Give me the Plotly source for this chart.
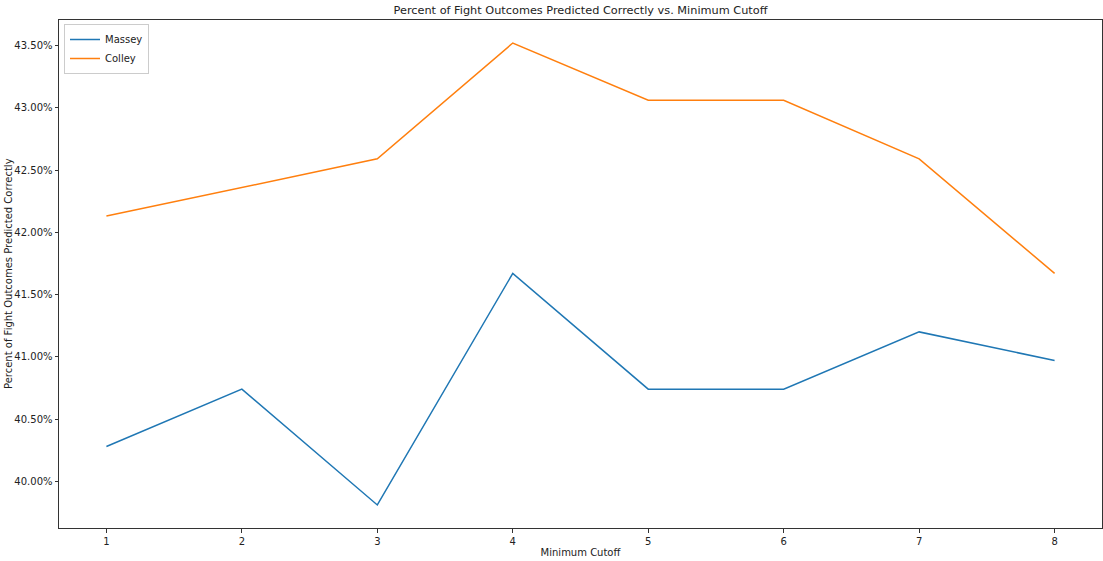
import plotly.graph_objects as go

# Minimum cutoff values and prediction accuracy for each rating method
cutoffs = [1, 2, 3, 4, 5, 6, 7, 8]
massey = [0.4028, 0.4074, 0.3981, 0.4167, 0.4074, 0.4074, 0.4120, 0.4097]
colley = [0.4213, 0.4236, 0.4259, 0.4352, 0.4306, 0.4306, 0.4259, 0.4167]
y_ticks = [0.400, 0.405, 0.410, 0.415, 0.420, 0.425, 0.430, 0.435]

FONT = "DejaVu Sans"
AXIS_COLOR = "#333333"

fig = go.Figure()
fig.add_trace(go.Scatter(x=cutoffs, y=massey, mode="lines", name="Massey",
                         line=dict(color="#1f77b4", width=1.5)))
fig.add_trace(go.Scatter(x=cutoffs, y=colley, mode="lines", name="Colley",
                         line=dict(color="#ff7f0e", width=1.5)))

axis_common = dict(showgrid=False, zeroline=False, showline=True, mirror=True,
                   linecolor=AXIS_COLOR, linewidth=1, ticks="outside", ticklen=3.5,
                   tickwidth=1, tickcolor=AXIS_COLOR,
                   tickfont=dict(family=FONT, size=10, color="#222222"))

fig.update_layout(
    width=1103, height=561,
    margin=dict(l=59, r=1, t=20, b=33),
    paper_bgcolor="white", plot_bgcolor="white",
    font=dict(family=FONT, size=10, color="#222222"),
    title=dict(text="Percent of Fight Outcomes Predicted Correctly vs. Minimum Cutoff",
               x=(59 + 1102) / 2 / 1103, xanchor="center", xref="container",
               y=1 - 10 / 561, yanchor="middle", yref="container",
               font=dict(family=FONT, size=11.3, color="#222222")),
    xaxis=dict(range=[0.65, 8.35], tickmode="array", tickvals=cutoffs,
               title=dict(text="Minimum Cutoff", standoff=3,
                          font=dict(family=FONT, size=10)),
               **axis_common),
    yaxis=dict(range=[0.39625, 0.43705], tickmode="array", tickvals=y_ticks,
               tickformat=".2%", **axis_common),
    legend=dict(x=5 / 1043, y=1 - 4 / 508, xanchor="left", yanchor="top",
                bgcolor="rgba(255,255,255,0.8)", bordercolor="#cccccc", borderwidth=1,
                font=dict(family=FONT, size=10), tracegroupgap=0),
    showlegend=True,
)

# Vertical y-axis label placed just inside the left edge of the page
fig.add_annotation(text="Percent of Fight Outcomes Predicted Correctly",
                   xref="paper", yref="paper", x=-(59 - 8) / 1043, y=0.5,
                   xanchor="center", yanchor="middle", textangle=-90, showarrow=False,
                   font=dict(family=FONT, size=10, color="#222222"))

fig.write_html("out.html")
